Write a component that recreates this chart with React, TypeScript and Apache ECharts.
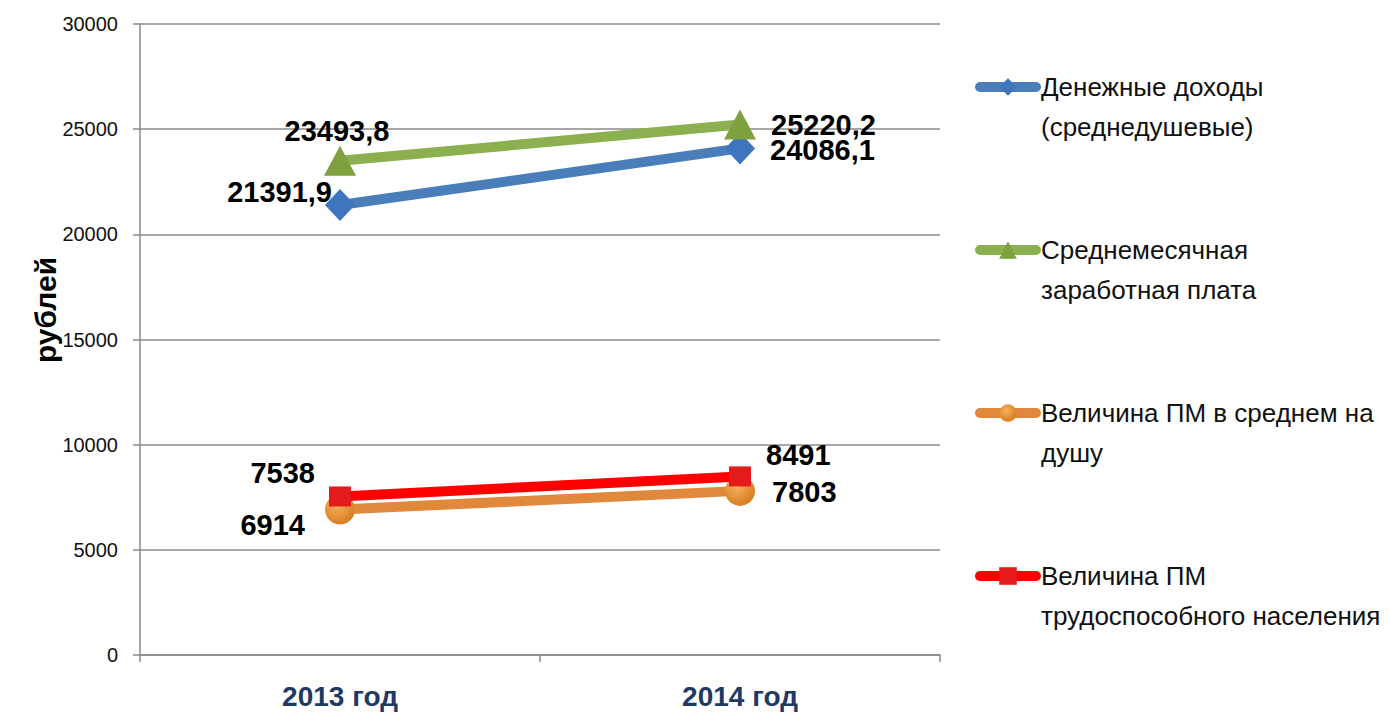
import React, { useEffect, useRef } from "react";
import * as echarts from "echarts";

const categories = ["2013 год", "2014 год"];
const seriesNames = [
  "Денежные доходы\n(среднедушевые)",
  "Среднемесячная\nзаработная плата",
  "Величина ПМ в среднем на\nдушу",
  "Величина ПМ\nтрудоспособного населения",
];
const incomeValues = [21391.9, 24086.1];
const salaryValues = [23493.8, 25220.2];
const pmAvgValues = [6914, 7803];
const pmWorkValues = [7538, 8491];
const yTicks = { min: 0, max: 30000, interval: 5000 };

const font = "'Liberation Sans', Arial, sans-serif";

function fmt(v: number) {
  return String(v).replace(".", ",");
}

export default function App() {
  const ref = useRef<HTMLDivElement>(null);
  useEffect(() => {
    document.body.style.margin = "0";
    const chart = echarts.init(ref.current!, null, { renderer: "svg" });
    const baseLabel = {
      show: true,
      fontFamily: font,
      fontWeight: "bold",
      fontSize: 29,
      color: "#000",
      distance: 0,
      formatter: (p: any) => fmt(p.value),
    };
    const mk = (vals: number[], labels: any[]) =>
      vals.map((v, i) => ({ value: v, label: { ...baseLabel, ...labels[i] } }));

    chart.setOption({
      animation: false,
      backgroundColor: "#fff",
      grid: { left: 140, right: 450, top: 24, bottom: 58 },
      legend: {
        orient: "vertical",
        left: 975,
        top: 27,
        padding: 0,
        itemWidth: 56,
        itemHeight: 22,
        itemGap: 43,
        formatter: (name: string) => "\n" + name,
        textStyle: {
          fontFamily: font,
          fontSize: 26,
          lineHeight: 40,
          color: "#111",
        },
        lineStyle: { width: "inherit", cap: "round" },
        data: seriesNames,
      },
      graphic: [
        {
          type: "text",
          x: 45,
          y: 310,
          rotation: Math.PI / 2,
          style: {
            text: "рублей",
            fontFamily: font,
            fontWeight: "bold",
            fontSize: 30,
            fill: "#000",
            align: "center",
            verticalAlign: "middle",
          },
        },
      ],
      xAxis: {
        type: "category",
        data: categories,
        boundaryGap: true,
        axisLine: { lineStyle: { color: "#8a8a8a", width: 1.5 } },
        axisTick: { show: true, length: 7, lineStyle: { color: "#8a8a8a", width: 1.5 } },
        axisLabel: {
          margin: 27,
          fontFamily: font,
          fontWeight: "bold",
          fontSize: 28,
          color: "#1f3864",
        },
      },
      yAxis: {
        type: "value",
        min: yTicks.min,
        max: yTicks.max,
        interval: yTicks.interval,
        axisLine: { show: true, lineStyle: { color: "#8a8a8a", width: 1.5 } },
        axisTick: { show: true, length: 7, lineStyle: { color: "#8a8a8a", width: 1.5 } },
        splitLine: { lineStyle: { color: "#8a8a8a", width: 1.5 } },
        axisLabel: {
          margin: 22,
          fontFamily: font,
          fontSize: 20,
          color: "#111",
          formatter: (v: number) => String(v),
        },
      },
      series: [
        {
          name: seriesNames[0],
          type: "line",
          symbol: "diamond",
          symbolSize: [30, 32],
          lineStyle: { color: "#4a7ebb", width: 10 },
          itemStyle: { color: "#3f75be" },
          data: mk(incomeValues, [
            { position: "left", offset: [7, -13] },
            { position: "right", distance: 15, offset: [0, 2] },
          ]),
          z: 3,
        },
        {
          name: seriesNames[1],
          type: "line",
          symbol: "triangle",
          symbolSize: [32, 30],
          lineStyle: { color: "#8cb050", width: 10 },
          itemStyle: { color: "#7ea03f" },
          data: mk(salaryValues, [
            { position: "top", offset: [-3, 0] },
            { position: "right", distance: 15, offset: [0, 0] },
          ]),
          z: 4,
        },
        {
          name: seriesNames[2],
          type: "line",
          symbol: "circle",
          symbolSize: 30,
          lineStyle: { color: "#e0893c", width: 10 },
          itemStyle: {
            color: {
              type: "radial",
              x: 0.4,
              y: 0.35,
              r: 0.7,
              colorStops: [
                { offset: 0, color: "#f7b060" },
                { offset: 1, color: "#d47a1c" },
              ],
            },
          },
          data: mk(pmAvgValues, [
            { position: "left", distance: 20, offset: [0, 15] },
            { position: "right", distance: 17, offset: [0, 1] },
          ]),
          z: 5,
        },
        {
          name: seriesNames[3],
          type: "line",
          symbol: "rect",
          symbolSize: [22, 20],
          lineStyle: { color: "#ff0000", width: 10 },
          itemStyle: { color: "#e31b1b" },
          data: mk(pmWorkValues, [
            { position: "left", distance: 14, offset: [0, -23] },
            { position: "right", distance: 15, offset: [0, -21] },
          ]),
          z: 6,
        },
      ],
    });
    return () => chart.dispose();
  }, []);
  return (
    <div
      ref={ref}
      style={{ position: "absolute", left: 0, top: 0, width: 1390, height: 713 }}
    />
  );
}
